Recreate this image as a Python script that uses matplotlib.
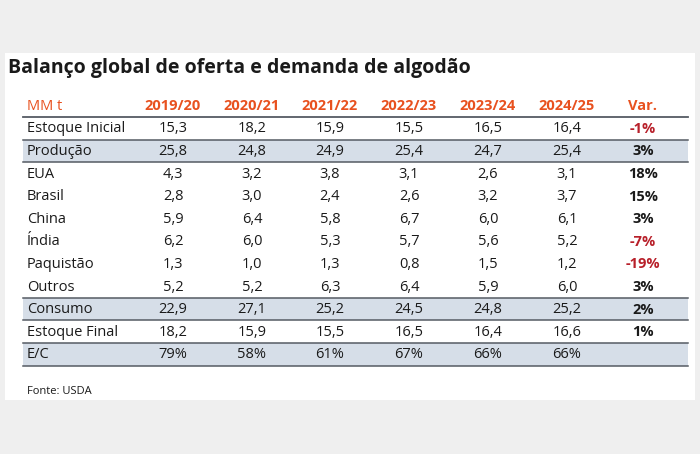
import matplotlib
matplotlib.use("Agg")
import matplotlib.pyplot as plt
from matplotlib.patches import Rectangle

title = "Balanço global de oferta e demanda de algodão"
unit = "MM t"
seasons = ["2019/20", "2020/21", "2021/22", "2022/23", "2023/24", "2024/25"]
rows = ["Estoque Inicial", "Produção", "EUA", "Brasil", "China", "Índia",
        "Paquistão", "Outros", "Consumo", "Estoque Final", "E/C"]
v_2019 = ["15,3", "25,8", "4,3", "2,8", "5,9", "6,2", "1,3", "5,2", "22,9", "18,2", "79%"]
v_2020 = ["18,2", "24,8", "3,2", "3,0", "6,4", "6,0", "1,0", "5,2", "27,1", "15,9", "58%"]
v_2021 = ["15,9", "24,9", "3,8", "2,4", "5,8", "5,3", "1,3", "6,3", "25,2", "15,5", "61%"]
v_2022 = ["15,5", "25,4", "3,1", "2,6", "6,7", "5,7", "0,8", "6,4", "24,5", "16,5", "67%"]
v_2023 = ["16,5", "24,7", "2,6", "3,2", "6,0", "5,6", "1,5", "5,9", "24,8", "16,4", "66%"]
v_2024 = ["16,4", "25,4", "3,1", "3,7", "6,1", "5,2", "1,2", "6,0", "25,2", "16,6", "66%"]
var = ["-1%", "3%", "18%", "15%", "3%", "-7%", "-19%", "3%", "2%", "1%", ""]
shaded = ["Produção", "Consumo", "E/C"]
source = "Fonte: USDA"

columns = [v_2019, v_2020, v_2021, v_2022, v_2023, v_2024]

ORANGE = "#e8511f"
RED = "#b8202a"
SHADE = "#d6dee8"
LINE = "#555b63"
TXT = "#1a1a1a"

plt.rcParams['font.family'] = ['Open Sans', 'DejaVu Sans']

fig = plt.figure(figsize=(7, 4.54), dpi=100)
fig.patch.set_facecolor("#efefef")
ax = fig.add_axes([0, 0, 1, 1])
ax.set_xlim(0, 700)
ax.set_ylim(454, 0)
ax.axis("off")

# white panel
ax.add_patch(Rectangle((5, 53), 690, 347, facecolor="white", edgecolor="none"))

ax.text(8, 68, title, fontsize=14, fontweight="bold", color=TXT, va="center", ha="left")

x_left, x_right = 23, 688
col_x = [173, 252, 330, 409, 488, 567]
var_x = 643
top = 117
rh = 22.6

ax.text(27, 106, unit, fontsize=10.5, color=ORANGE, va="center", ha="left")
for x, s in zip(col_x, seasons):
    ax.text(x, 106, s, fontsize=10.5, fontweight="bold", color=ORANGE, va="center", ha="center")
ax.text(var_x, 106, "Var.", fontsize=10.5, fontweight="bold", color=ORANGE, va="center", ha="center")
ax.plot([x_left, x_right], [top, top], color=LINE, lw=1.3)

for i, name in enumerate(rows):
    y0 = top + i * rh
    yc = y0 + rh / 2 + 0.5
    if name in shaded:
        ax.add_patch(Rectangle((x_left, y0), x_right - x_left, rh, facecolor=SHADE, edgecolor="none"))
        ax.plot([x_left, x_right], [y0, y0], color=LINE, lw=1.1)
        ax.plot([x_left, x_right], [y0 + rh, y0 + rh], color=LINE, lw=1.1)
    ax.text(27, yc, name, fontsize=10.5, color=TXT, va="center", ha="left")
    for x, col in zip(col_x, columns):
        ax.text(x, yc, col[i], fontsize=10.5, color=TXT, va="center", ha="center")
    v = var[i]
    ax.text(var_x, yc, v, fontsize=10.5, fontweight="bold",
            color=RED if v.startswith("-") else TXT, va="center", ha="center")

ax.text(27, 391, source, fontsize=8, color=TXT, va="center", ha="left")

fig.savefig("out.png", dpi=100, facecolor=fig.get_facecolor())
